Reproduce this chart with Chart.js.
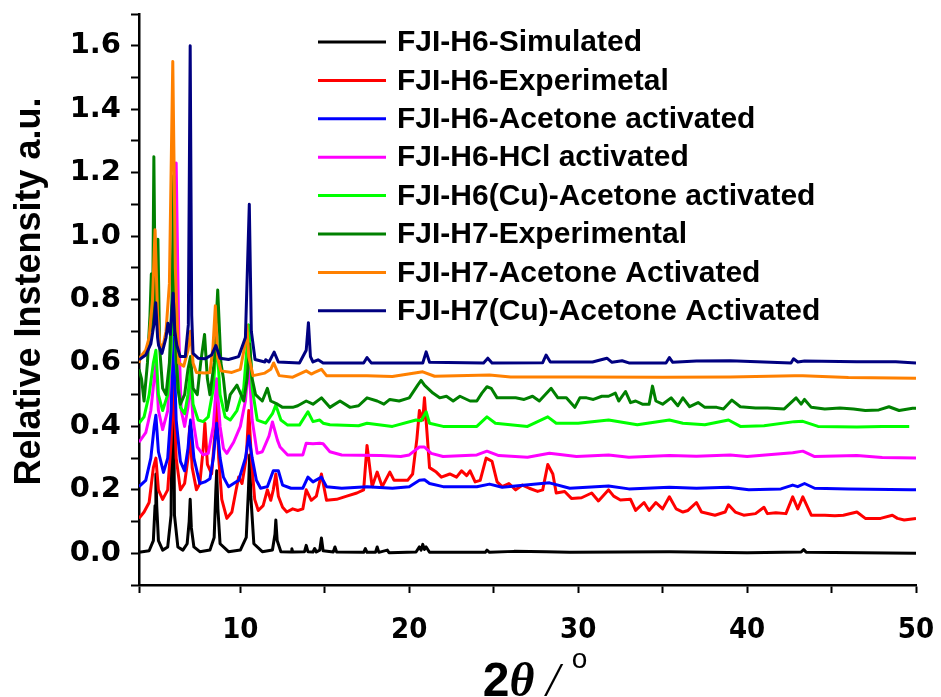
<!DOCTYPE html>
<html lang="en">
<head>
    <meta charset="UTF-8" />
    <title>FJI-H6 / FJI-H7 PXRD</title>
    <style>
        body {
            margin: 0;
            padding: 0;
            background-color: #fff;
        }

        canvas {
            display: block;
        }
    </style>
    <script src="https://cdn.jsdelivr.net/npm/chart.js"></script>
</head>
<body>
    <canvas id="xrdChart" width="941" height="697"></canvas>

    <script>
    // series names + colours (legend order)
    const seriesNames = [
      'FJI-H6-Simulated',
      'FJI-H6-Experimetal',
      'FJI-H6-Acetone activated',
      'FJI-H6-HCl activated',
      'FJI-H6(Cu)-Acetone activated',
      'FJI-H7-Experimental',
      'FJI-H7-Acetone Activated',
      'FJI-H7(Cu)-Acetone Activated'
    ];
    const seriesColors = ['#000000', '#ff0000', '#0000ff', '#ff00ff', '#00ff00', '#008000', '#ff8000', '#000080'];

    // [2theta, relative intensity]
    const h6Simulated = [[4.0,0.003],[4.6,0.008],[4.85,0.04],[4.95,0.15],[5.0,0.25],[5.05,0.15],[5.15,0.04],[5.4,0.01],[5.7,0.02],[5.9,0.12],[6.0,0.9],[6.1,0.12],[6.3,0.02],[6.6,0.01],[6.85,0.03],[6.97,0.1],[7.03,0.17],[7.1,0.08],[7.25,0.02],[7.6,0.005],[8.2,0.01],[8.45,0.05],[8.55,0.2],[8.6,0.26],[8.67,0.14],[8.8,0.03],[9.3,0.005],[10.0,0.01],[10.35,0.05],[10.48,0.2],[10.55,0.31],[10.62,0.18],[10.8,0.03],[11.3,0.005],[11.9,0.01],[12.05,0.06],[12.1,0.105],[12.18,0.04],[12.4,0.005],[13.0,0.004],[13.05,0.014],[13.1,0.004],[13.8,0.005],[13.9,0.025],[14.0,0.005],[14.3,0.004],[14.4,0.015],[14.5,0.004],[14.7,0.01],[14.8,0.048],[14.9,0.008],[15.5,0.004],[15.6,0.02],[15.7,0.004],[17.3,0.003],[17.4,0.015],[17.5,0.003],[18.0,0.003],[18.1,0.02],[18.2,0.003],[18.7,0.01],[18.8,0.002],[20.4,0.004],[20.6,0.02],[20.7,0.01],[20.8,0.028],[20.9,0.012],[21.0,0.02],[21.2,0.003],[24.5,0.003],[24.6,0.01],[24.75,0.003],[26.2,0.006],[28.1,0.005],[29.5,0.003],[35.4,0.005],[40.0,0.002],[43.2,0.004],[43.35,0.012],[43.5,0.003],[50.0,0.0]];
    const h6Experimental = [[4.0,0.11],[4.3,0.13],[4.6,0.16],[4.85,0.27],[5.0,0.3],[5.15,0.2],[5.4,0.17],[5.7,0.2],[5.9,0.35],[6.05,0.55],[6.2,0.3],[6.45,0.2],[6.7,0.22],[6.9,0.3],[7.0,0.4],[7.15,0.27],[7.4,0.2],[7.6,0.22],[7.8,0.33],[7.9,0.41],[8.05,0.28],[8.3,0.25],[8.5,0.38],[8.6,0.5],[8.72,0.3],[8.9,0.17],[9.2,0.11],[9.5,0.13],[9.75,0.2],[9.9,0.24],[10.1,0.22],[10.35,0.3],[10.5,0.45],[10.65,0.3],[10.85,0.17],[11.06,0.135],[11.35,0.15],[11.6,0.2],[11.8,0.167],[11.95,0.2],[12.1,0.25],[12.25,0.18],[12.5,0.145],[12.75,0.13],[13.1,0.14],[13.4,0.135],[13.7,0.14],[13.9,0.2],[14.2,0.167],[14.5,0.18],[14.8,0.25],[15.1,0.167],[15.7,0.17],[16.3,0.18],[16.9,0.19],[17.3,0.2],[17.5,0.34],[17.8,0.21],[18.1,0.256],[18.4,0.21],[18.85,0.256],[19.1,0.23],[19.4,0.23],[19.9,0.23],[20.2,0.25],[20.45,0.36],[20.6,0.45],[20.8,0.42],[20.9,0.49],[21.05,0.38],[21.2,0.27],[21.6,0.256],[21.9,0.24],[22.4,0.25],[22.8,0.24],[23.1,0.26],[23.4,0.245],[23.6,0.26],[23.9,0.225],[24.2,0.23],[24.55,0.3],[24.9,0.29],[25.2,0.225],[25.5,0.21],[25.9,0.22],[26.3,0.2],[26.7,0.215],[27.1,0.205],[27.6,0.195],[27.9,0.2],[28.2,0.28],[28.5,0.25],[28.7,0.19],[29.2,0.195],[29.6,0.173],[30.2,0.175],[30.8,0.19],[31.2,0.165],[31.8,0.2],[32.1,0.18],[32.5,0.168],[33.1,0.17],[33.4,0.135],[33.9,0.16],[34.2,0.135],[34.6,0.16],[35.0,0.14],[35.4,0.178],[35.8,0.14],[36.2,0.13],[36.5,0.135],[37.0,0.16],[37.3,0.13],[38.1,0.12],[38.7,0.13],[38.9,0.153],[39.3,0.13],[39.8,0.12],[40.5,0.125],[41.0,0.145],[41.2,0.125],[41.7,0.128],[42.3,0.125],[42.7,0.178],[43.0,0.14],[43.3,0.178],[43.8,0.12],[44.6,0.12],[45.2,0.118],[45.7,0.12],[46.5,0.13],[47.0,0.11],[47.9,0.11],[48.6,0.12],[48.9,0.11],[49.3,0.105],[50.0,0.11]];
    const h6Acetone = [[4.0,0.21],[4.4,0.23],[4.7,0.3],[4.9,0.4],[5.0,0.435],[5.15,0.32],[5.45,0.255],[5.7,0.3],[5.9,0.45],[6.05,0.68],[6.2,0.42],[6.45,0.29],[6.7,0.26],[6.9,0.33],[7.05,0.42],[7.25,0.3],[7.6,0.22],[7.9,0.225],[8.2,0.235],[8.4,0.3],[8.6,0.41],[8.8,0.3],[9.0,0.24],[9.3,0.21],[9.9,0.23],[10.3,0.3],[10.5,0.37],[10.7,0.3],[10.95,0.23],[11.2,0.205],[11.6,0.21],[11.95,0.26],[12.25,0.26],[12.5,0.215],[13.0,0.205],[13.7,0.205],[14.0,0.24],[14.3,0.225],[14.8,0.24],[15.1,0.21],[16.0,0.205],[17.5,0.21],[19.0,0.205],[20.0,0.21],[20.6,0.23],[20.9,0.232],[21.2,0.22],[22.0,0.21],[24.0,0.21],[24.75,0.218],[25.5,0.208],[28.3,0.222],[29.5,0.205],[31.8,0.212],[33.0,0.203],[35.4,0.208],[37.0,0.205],[38.9,0.208],[40.1,0.2],[42.0,0.203],[42.7,0.215],[43.0,0.21],[43.4,0.22],[44.0,0.205],[46.0,0.203],[49.7,0.2],[50.0,0.2]];
    const h6Hcl = [[4.0,0.35],[4.4,0.38],[4.7,0.45],[4.9,0.55],[5.0,0.6],[5.15,0.45],[5.4,0.39],[5.7,0.45],[6.0,0.75],[6.2,1.23],[6.35,0.7],[6.5,0.45],[6.7,0.4],[6.9,0.46],[7.05,0.55],[7.2,0.42],[7.45,0.335],[7.8,0.31],[8.1,0.315],[8.4,0.4],[8.6,0.55],[8.8,0.4],[9.0,0.33],[9.2,0.315],[9.6,0.35],[10.0,0.4],[10.3,0.48],[10.5,0.6],[10.7,0.42],[11.0,0.315],[11.3,0.32],[11.7,0.37],[11.9,0.414],[12.2,0.356],[12.35,0.335],[12.8,0.31],[13.7,0.31],[13.9,0.347],[14.3,0.345],[14.7,0.347],[14.9,0.345],[15.3,0.32],[16.0,0.31],[18.3,0.308],[19.5,0.305],[20.0,0.31],[20.6,0.335],[20.9,0.335],[21.3,0.315],[22.0,0.305],[24.0,0.31],[24.6,0.322],[25.3,0.308],[27.0,0.303],[28.3,0.315],[29.9,0.305],[31.8,0.31],[33.0,0.303],[35.4,0.308],[37.0,0.306],[39.0,0.31],[40.0,0.305],[42.7,0.317],[43.3,0.322],[44.0,0.305],[46.5,0.308],[48.0,0.302],[50.0,0.3]];
    const h6CuAcetone = [[4.0,0.41],[4.3,0.43],[4.6,0.5],[4.85,0.6],[5.0,0.64],[5.15,0.5],[5.4,0.45],[5.7,0.5],[5.9,0.65],[6.05,0.92],[6.2,0.6],[6.45,0.46],[6.7,0.44],[6.9,0.5],[7.05,0.58],[7.2,0.47],[7.5,0.42],[7.8,0.415],[8.1,0.43],[8.4,0.52],[8.6,0.68],[8.8,0.5],[9.1,0.43],[9.4,0.42],[9.8,0.45],[10.2,0.52],[10.5,0.72],[10.7,0.52],[11.0,0.42],[11.5,0.41],[11.9,0.44],[12.1,0.467],[12.4,0.42],[12.8,0.404],[13.5,0.404],[14.0,0.446],[14.3,0.415],[14.7,0.42],[14.9,0.41],[15.3,0.405],[17.0,0.402],[17.5,0.41],[19.0,0.4],[20.4,0.42],[20.7,0.418],[21.0,0.446],[21.2,0.41],[22.0,0.4],[24.0,0.4],[24.6,0.43],[25.1,0.41],[27.0,0.4],[28.2,0.43],[28.7,0.41],[30.0,0.41],[31.8,0.42],[33.5,0.405],[35.4,0.42],[36.2,0.41],[37.5,0.405],[38.9,0.42],[39.6,0.4],[41.0,0.402],[42.8,0.415],[43.3,0.416],[44.2,0.4],[46.5,0.398],[48.0,0.4],[49.6,0.4]];
    const h7Experimental = [[4.0,0.58],[4.15,0.55],[4.3,0.48],[4.5,0.6],[4.65,0.75],[4.73,0.88],[4.8,0.7],[4.88,1.25],[4.97,0.75],[5.05,0.8],[5.12,0.99],[5.22,0.65],[5.4,0.52],[5.6,0.5],[5.8,0.6],[5.95,0.8],[6.05,1.19],[6.15,0.7],[6.3,0.52],[6.45,0.47],[6.7,0.5],[6.9,0.58],[7.05,0.62],[7.2,0.52],[7.45,0.5],[7.65,0.6],[7.88,0.69],[8.05,0.55],[8.2,0.5],[8.45,0.6],[8.66,0.83],[8.85,0.6],[9.0,0.55],[9.2,0.45],[9.4,0.5],[9.8,0.53],[10.2,0.48],[10.4,0.55],[10.55,0.66],[10.7,0.55],[10.9,0.5],[11.3,0.48],[11.6,0.52],[11.8,0.48],[12.2,0.47],[12.5,0.46],[13.1,0.46],[13.4,0.465],[13.9,0.48],[14.3,0.47],[14.8,0.49],[15.3,0.46],[15.9,0.48],[16.5,0.46],[17.0,0.465],[17.5,0.49],[18.1,0.48],[18.5,0.47],[18.85,0.485],[19.4,0.48],[20.0,0.49],[20.5,0.53],[20.7,0.545],[20.9,0.53],[21.1,0.52],[21.4,0.505],[21.8,0.49],[22.2,0.495],[22.6,0.48],[23.0,0.495],[23.6,0.48],[24.0,0.48],[24.3,0.505],[24.6,0.525],[24.85,0.52],[25.2,0.49],[25.7,0.49],[26.3,0.49],[26.8,0.485],[27.3,0.495],[27.7,0.48],[28.4,0.52],[28.8,0.49],[29.3,0.49],[29.8,0.46],[30.1,0.49],[30.5,0.49],[30.9,0.485],[31.4,0.495],[31.8,0.495],[32.2,0.505],[32.4,0.48],[32.8,0.51],[33.1,0.475],[33.4,0.48],[33.8,0.47],[34.2,0.47],[34.4,0.527],[34.6,0.48],[35.0,0.47],[35.5,0.49],[35.9,0.465],[36.2,0.49],[36.6,0.462],[37.1,0.475],[37.5,0.46],[38.2,0.46],[38.6,0.455],[39.1,0.483],[39.6,0.462],[40.5,0.458],[41.2,0.458],[42.2,0.455],[42.9,0.49],[43.2,0.47],[43.4,0.485],[43.8,0.46],[44.6,0.455],[45.5,0.458],[46.3,0.455],[47.0,0.45],[47.8,0.452],[48.4,0.462],[49.0,0.45],[49.8,0.457],[50.0,0.457]];
    const h7Acetone = [[4.0,0.6],[4.1,0.62],[4.4,0.64],[4.6,0.68],[4.8,0.8],[4.95,1.02],[5.1,0.75],[5.25,0.65],[5.45,0.66],[5.6,0.7],[5.8,0.85],[6.0,1.55],[6.15,0.9],[6.35,0.6],[6.65,0.59],[6.9,0.64],[7.05,0.7],[7.2,0.6],[7.4,0.57],[7.9,0.568],[8.2,0.57],[8.38,0.65],[8.52,0.78],[8.65,0.62],[8.85,0.575],[9.5,0.57],[10.0,0.58],[10.25,0.65],[10.38,0.72],[10.5,0.62],[10.75,0.56],[11.45,0.568],[11.8,0.58],[11.97,0.6],[12.3,0.56],[13.1,0.555],[13.9,0.575],[14.2,0.565],[14.4,0.57],[14.8,0.58],[15.1,0.56],[17.5,0.56],[19.0,0.557],[20.8,0.572],[21.5,0.558],[24.75,0.562],[26.0,0.556],[30.0,0.556],[35.0,0.555],[39.0,0.556],[42.8,0.56],[43.3,0.56],[46.0,0.554],[50.0,0.552]];
    const h7CuAcetone = [[4.0,0.61],[4.4,0.625],[4.7,0.66],[4.88,0.72],[4.99,0.79],[5.1,0.68],[5.16,0.655],[5.36,0.63],[5.6,0.68],[5.71,0.725],[5.85,0.69],[5.94,0.75],[6.02,0.82],[6.12,0.7],[6.24,0.655],[6.44,0.62],[6.74,0.62],[6.92,0.72],[7.03,1.6],[7.12,0.75],[7.2,0.63],[7.5,0.615],[7.9,0.613],[8.3,0.625],[8.55,0.655],[8.8,0.615],[9.3,0.611],[9.9,0.62],[10.3,0.68],[10.53,1.1],[10.65,0.7],[10.87,0.611],[11.45,0.603],[11.5,0.61],[11.7,0.603],[12.0,0.634],[12.25,0.603],[13.5,0.6],[13.9,0.64],[14.03,0.727],[14.15,0.62],[14.3,0.603],[14.6,0.61],[14.9,0.6],[17.3,0.6],[17.5,0.617],[17.75,0.6],[20.8,0.6],[21.0,0.635],[21.2,0.602],[24.4,0.6],[24.65,0.615],[24.9,0.6],[27.9,0.601],[28.1,0.625],[28.35,0.603],[30.85,0.603],[31.7,0.615],[32.0,0.602],[32.6,0.607],[33.0,0.6],[35.2,0.6],[35.4,0.617],[35.6,0.602],[37.0,0.606],[39.0,0.607],[42.6,0.6],[42.75,0.613],[43.0,0.603],[43.4,0.606],[46.5,0.604],[48.8,0.604],[50.0,0.6]];

    const allSeries = [h6Simulated, h6Experimental, h6Acetone, h6Hcl, h6CuAcetone, h7Experimental, h7Acetone, h7CuAcetone];

    // axis ranges / ticks
    const xMin = 4, xMax = 50, xStep = 5;
    const yMin = -0.1, yMax = 1.7, yStep = 0.1;

    const datasets = allSeries.map((pts, i) => ({
      label: seriesNames[i],
      data: pts.map(p => ({ x: p[0], y: p[1] })),
      borderColor: seriesColors[i],
      backgroundColor: seriesColors[i],
      borderWidth: 3,
      pointRadius: 0,
      tension: 0,
      borderJoinStyle: 'round',
      fill: false,
      order: allSeries.length - i   // later series drawn on top
    }));

    // legend inside the plot, top right
    const legendPlugin = {
      id: 'insideLegend',
      afterDraw(chart) {
        const ctx = chart.ctx;
        ctx.save();
        ctx.font = 'bold 30px "Liberation Sans", Arial, sans-serif';
        ctx.textBaseline = 'middle';
        chart.data.datasets.forEach((ds, i) => {
          const y = 42 + i * 38.4;
          ctx.strokeStyle = ds.borderColor;
          ctx.lineWidth = 3;
          ctx.beginPath();
          ctx.moveTo(318, y);
          ctx.lineTo(386, y);
          ctx.stroke();
          ctx.fillStyle = '#000';
          ctx.fillText(ds.label, 397, y + 1);
        });
        ctx.restore();
      }
    };

    // axis titles
    const titlePlugin = {
      id: 'axisTitles',
      afterDraw(chart) {
        const ctx = chart.ctx;
        const area = chart.chartArea;
        ctx.save();
        ctx.fillStyle = '#000';

        // y title
        ctx.translate(30, (area.top + area.bottom) / 2 - 8);
        ctx.rotate(-Math.PI / 2);
        ctx.font = 'bold 36px "Liberation Sans", Arial, sans-serif';
        ctx.textAlign = 'center';
        ctx.textBaseline = 'middle';
        ctx.fillText('Relative Instensity a.u.', 0, 0);
        ctx.setTransform(1, 0, 0, 1, 0, 0);

        // x title: 2θ / °
        const parts = [
          { t: '2', f: 'bold 48px "Liberation Sans", Arial, sans-serif', dy: 0 },
          { t: 'θ', f: 'bold italic 48px "Liberation Serif", "Times New Roman", serif', dy: 0 },
          { t: ' / ', f: 'italic 48px "Liberation Serif", "Times New Roman", serif', dy: 0 },
          { t: 'o', f: '28px "Liberation Sans", Arial, sans-serif', dy: -28 }
        ];
        let total = 0;
        parts.forEach(p => { ctx.font = p.f; p.w = ctx.measureText(p.t).width; total += p.w; });
        let x = 535 - total / 2;
        ctx.textAlign = 'left';
        ctx.textBaseline = 'alphabetic';
        parts.forEach(p => {
          ctx.font = p.f;
          ctx.fillText(p.t, x, 696 + p.dy);
          x += p.w;
        });
        ctx.restore();
      }
    };

    new Chart(document.getElementById('xrdChart'), {
      type: 'line',
      data: { datasets: datasets },
      options: {
        responsive: false,
        animation: false,
        devicePixelRatio: 1,
        layout: { padding: { top: 14, right: 25, left: 0, bottom: 0 } },
        plugins: {
          legend: { display: false },
          tooltip: { enabled: false }
        },
        scales: {
          x: {
            type: 'linear',
            min: xMin,
            max: xMax,
            afterFit(scale) {
              scale.height = 112;
              scale.paddingLeft = 0;
              scale.paddingRight = 0;
            },
            border: { display: true, color: '#000', width: 2.5 },
            grid: { drawOnChartArea: false, drawTicks: true, tickLength: 8, tickColor: '#000', tickWidth: 2 },
            ticks: {
              stepSize: xStep,
              autoSkip: false,
              maxRotation: 0,
              padding: 20,
              color: '#000',
              font: { family: '"Liberation Sans Narrow", "DejaVu Sans Condensed", "Liberation Sans", Arial, sans-serif', size: 29, weight: 'bold' },
              callback: v => (v % 10 === 0 ? String(v) : '')
            }
          },
          y: {
            type: 'linear',
            min: yMin,
            max: yMax,
            afterFit(scale) {
              scale.width = 139;
              scale.paddingTop = 0;
              scale.paddingBottom = 0;
            },
            border: { display: true, color: '#000', width: 2.5 },
            grid: { drawOnChartArea: false, drawTicks: true, tickLength: 8, tickColor: '#000', tickWidth: 2 },
            ticks: {
              stepSize: yStep,
              autoSkip: false,
              padding: 10,
              color: '#000',
              font: { family: '"DejaVu Sans", sans-serif', size: 29, weight: 'bold' },
              callback: v => {
                const k = Math.round(v * 10);
                return (k >= 0 && k % 2 === 0) ? (k / 10).toFixed(1) : '';
              }
            }
          }
        }
      },
      plugins: [legendPlugin, titlePlugin]
    });
    </script>
</body>
</html>
